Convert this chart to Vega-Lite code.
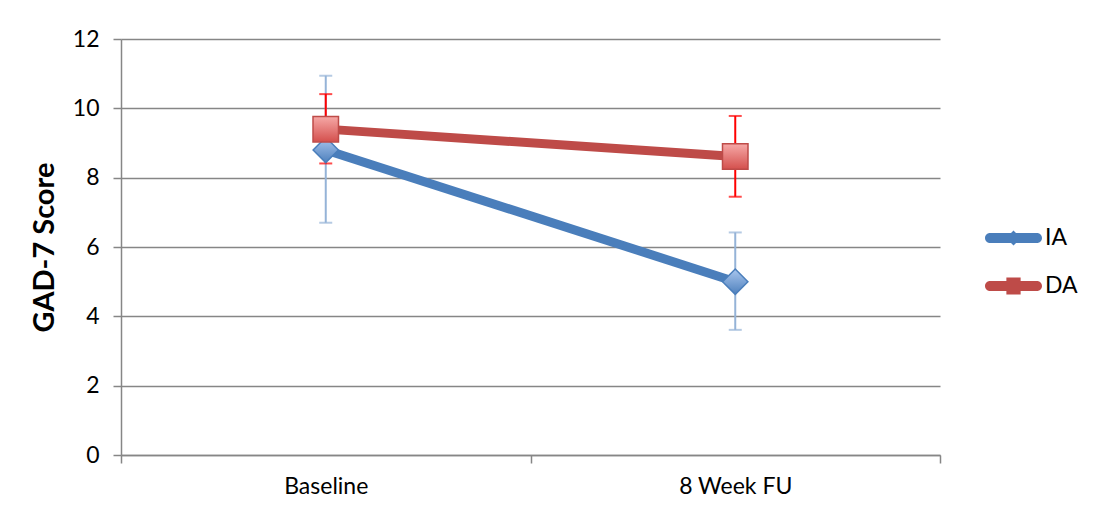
{
  "$schema": "https://vega.github.io/schema/vega-lite/v6.json",
  "width": 819,
  "height": 416,
  "autosize": {"type": "none"},
  "padding": {"left": 121, "top": 39, "right": 169, "bottom": 54},
  "background": "white",
  "config": {
    "view": {"stroke": null},
    "font": "Lato",
    "axis": {
      "labelFont": "Lato",
      "titleFont": "Lato",
      "labelFontSize": 23,
      "labelColor": "#000000",
      "domainColor": "#868686",
      "tickColor": "#868686",
      "gridColor": "#868686",
      "domainWidth": 1.5,
      "tickWidth": 1.5,
      "gridWidth": 1.5,
      "tickSize": 8
    },
    "legend": {
      "title": null,
      "orient": "none",
      "legendX": 864,
      "legendY": 175,
      "labelFont": "Lato",
      "labelFontSize": 23,
      "labelColor": "#000000",
      "symbolSize": 3249,
      "symbolStrokeWidth": 0,
      "symbolOpacity": 1,
      "clipHeight": 48,
      "rowPadding": 0,
      "labelOffset": 3,
      "padding": 0
    }
  },
  "data": {
    "values": [
      {"time": "Baseline", "series": "IA", "mean": 8.8, "lo": 6.7, "hi": 10.94},
      {"time": "8 Week FU", "series": "IA", "mean": 5.0, "lo": 3.61, "hi": 6.42},
      {"time": "Baseline", "series": "DA", "mean": 9.4, "lo": 8.41, "hi": 10.41},
      {"time": "8 Week FU", "series": "DA", "mean": 8.61, "lo": 7.45, "hi": 9.78}
    ]
  },
  "encoding": {
    "x": {
      "field": "time",
      "type": "nominal",
      "sort": ["Baseline", "8 Week FU"],
      "scale": {"type": "band", "paddingInner": 0, "paddingOuter": 0},
      "axis": {"title": null, "labelAngle": 0, "tickBand": "extent", "labelPadding": 12, "grid": false}
    }
  },
  "layer": [
    {
      "mark": {"type": "line", "strokeWidth": 9, "strokeCap": "butt"},
      "encoding": {
        "y": {
          "field": "mean",
          "type": "quantitative",
          "scale": {"domain": [0, 12], "nice": false},
          "axis": {
            "values": [0, 2, 4, 6, 8, 10, 12],
            "grid": true,
            "title": "GAD-7 Score",
            "titleFontSize": 29,
            "titleFontWeight": "bold",
            "titleColor": "#000000",
            "labelPadding": 14,
            "titlePadding": 13
          }
        },
        "color": {
          "field": "series",
          "type": "nominal",
          "scale": {"domain": ["IA", "DA"], "range": ["#4a7ebb", "#be4b48"]}
        },
        "order": {"field": "series", "sort": "descending"}
      }
    },
    {
      "transform": [{"filter": "datum.series === 'IA'"}],
      "mark": {"type": "rule", "color": "#95b3d7", "strokeWidth": 2},
      "encoding": {"y": {"field": "lo", "type": "quantitative"}, "y2": {"field": "hi"}}
    },
    {
      "transform": [{"filter": "datum.series === 'IA'"}],
      "mark": {"type": "tick", "color": "#95b3d7", "size": 13, "thickness": 2},
      "encoding": {"y": {"field": "lo", "type": "quantitative"}}
    },
    {
      "transform": [{"filter": "datum.series === 'IA'"}],
      "mark": {"type": "tick", "color": "#95b3d7", "size": 13, "thickness": 2},
      "encoding": {"y": {"field": "hi", "type": "quantitative"}}
    },
    {
      "transform": [{"filter": "datum.series === 'DA'"}],
      "mark": {"type": "rule", "color": "#ff0000", "strokeWidth": 2},
      "encoding": {"y": {"field": "lo", "type": "quantitative"}, "y2": {"field": "hi"}}
    },
    {
      "transform": [{"filter": "datum.series === 'DA'"}],
      "mark": {"type": "tick", "color": "#ff0000", "size": 13, "thickness": 2},
      "encoding": {"y": {"field": "lo", "type": "quantitative"}}
    },
    {
      "transform": [{"filter": "datum.series === 'DA'"}],
      "mark": {"type": "tick", "color": "#ff0000", "size": 13, "thickness": 2},
      "encoding": {"y": {"field": "hi", "type": "quantitative"}}
    },
    {
      "transform": [{"filter": "datum.series === 'IA'"}],
      "mark": {
        "type": "point",
        "shape": "diamond",
        "size": 640,
        "filled": true,
        "opacity": 1,
        "fill": {
          "gradient": "linear", "x1": 0, "y1": 0, "x2": 0, "y2": 1,
          "stops": [{"offset": 0, "color": "#a9c6ee"}, {"offset": 1, "color": "#4f81bd"}]
        },
        "stroke": "#4a7ebb",
        "strokeWidth": 1.5
      },
      "encoding": {"y": {"field": "mean", "type": "quantitative"}}
    },
    {
      "transform": [{"filter": "datum.series === 'DA'"}],
      "mark": {
        "type": "point",
        "shape": "square",
        "size": 650,
        "filled": true,
        "opacity": 1,
        "fill": {
          "gradient": "linear", "x1": 0, "y1": 0, "x2": 0, "y2": 1,
          "stops": [{"offset": 0, "color": "#f6a9a7"}, {"offset": 1, "color": "#d4504d"}]
        },
        "stroke": "#be4b48",
        "strokeWidth": 1.5
      },
      "encoding": {"y": {"field": "mean", "type": "quantitative"}}
    },
    {
      "mark": {"type": "point", "filled": true, "opacity": 0, "strokeWidth": 0},
      "encoding": {
        "y": {"field": "mean", "type": "quantitative"},
        "color": {
          "field": "series",
          "type": "nominal",
          "scale": {"domain": ["IA", "DA"], "range": ["#4a7ebb", "#be4b48"]}
        },
        "shape": {
          "field": "series",
          "type": "nominal",
          "scale": {
            "domain": ["IA", "DA"],
            "range": [
              "M-0.825,-0.175 L0.825,-0.175 A0.175,0.175 0 0 1 0.825,0.175 L-0.825,0.175 A0.175,0.175 0 0 1 -0.825,-0.175 Z M0,-0.26 L0.26,0 L0,0.26 L-0.26,0 Z",
              "M-0.825,-0.175 L0.825,-0.175 A0.175,0.175 0 0 1 0.825,0.175 L-0.825,0.175 A0.175,0.175 0 0 1 -0.825,-0.175 Z M-0.25,-0.3 L0.25,-0.3 L0.25,0.3 L-0.25,0.3 Z"
            ]
          }
        }
      }
    }
  ]
}
